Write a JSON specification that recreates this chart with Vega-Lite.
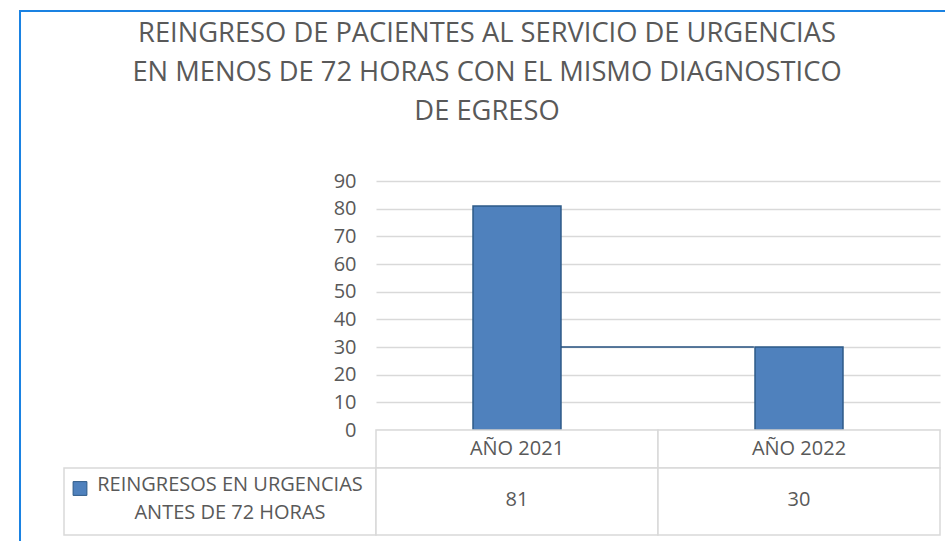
{
  "$schema": "https://vega.github.io/schema/vega-lite/v6.json",
  "padding": {"left": 19, "top": 10, "right": 0, "bottom": 0},
  "background": "white",
  "datasets": {
    "main": [
      {"year": "AÑO 2021", "value": 81},
      {"year": "AÑO 2022", "value": 30}
    ],
    "serie": [{"serie": "REINGRESOS EN URGENCIAS\nANTES DE 72 HORAS"}],
    "title": [{"t": "REINGRESO DE PACIENTES AL SERVICIO DE URGENCIAS\nEN MENOS DE 72 HORAS CON EL MISMO DIAGNOSTICO\nDE EGRESO"}]
  },
  "config": {
    "view": {"stroke": null},
    "font": "Open Sans",
    "text": {"font": "Open Sans", "color": "#595959"}
  },
  "spacing": 0,
  "bounds": "flush",
  "vconcat": [
    {
      "width": 926, "height": 0.01,
      "view": {"stroke": "#1A82E2", "strokeWidth": 2},
      "data": {"values": []},
      "mark": "point"
    },
    {
      "spacing": 43,
      "bounds": "flush",
      "hconcat": [
        {
          "width": 0.01, "height": 531,
          "view": {"stroke": "#1A82E2", "strokeWidth": 2},
          "data": {"values": []},
          "mark": "point"
        },
        {
          "spacing": 47,
          "bounds": "flush",
          "vconcat": [
            {
              "width": 876, "height": 122,
              "data": {"name": "title"},
              "mark": {"type": "text", "fontSize": 27.3, "lineBreak": "\n", "lineHeight": 39, "align": "center", "baseline": "middle", "dx": -15, "dy": -39, "color": "#595959"},
              "encoding": {"text": {"field": "t"}}
            },
            {
              "columns": 2,
              "spacing": 0,
              "align": "each",
              "bounds": "flush",
              "concat": [
                {"width": 312, "height": 249, "data": {"values": []}, "mark": "point"},
                {
                  "width": 564, "height": 249,
                  "data": {"name": "main"},
                  "encoding": {
                    "y": {"field": "value", "type": "quantitative", "scale": {"domain": [0, 90], "nice": false},
                      "axis": {"values": [0, 10, 20, 30, 40, 50, 60, 70, 80, 90], "title": null, "grid": true, "gridColor": "#D9D9D9", "gridWidth": 1.3, "domain": false, "ticks": false, "labelFontSize": 20, "labelColor": "#595959", "labelPadding": 20, "labelFont": "Open Sans", "labelOverlap": false}}
                  },
                  "layer": [
                    {
                      "mark": {"type": "bar", "width": {"band": 0.312}, "fill": "#4F81BD", "stroke": "#2D5A88", "strokeWidth": 1.5},
                      "encoding": {
                        "x": {"field": "year", "type": "nominal", "scale": {"paddingInner": 0, "paddingOuter": 0}, "axis": null}
                      }
                    },
                    {
                      "transform": [{"filter": "datum.year == 'AÑO 2022'"}],
                      "mark": {"type": "rule", "color": "#24507F", "strokeWidth": 1.5},
                      "encoding": {
                        "x": {"field": "year", "type": "nominal", "bandPosition": -0.344},
                        "x2": {"field": "year", "bandPosition": 0.34}
                      }
                    }
                  ]
                },
                {"width": 312, "height": 38, "data": {"values": []}, "mark": "point"},
                {
                  "width": 564, "height": 38,
                  "data": {"name": "main"},
                  "layer": [
                    {
                      "mark": {"type": "rect", "fill": "white", "stroke": "#D9D9D9", "strokeWidth": 1.5},
                      "encoding": {"x": {"field": "year", "type": "nominal", "scale": {"paddingInner": 0, "paddingOuter": 0}, "axis": null}}
                    },
                    {
                      "mark": {"type": "text", "fontSize": 20, "baseline": "middle", "color": "#595959"},
                      "encoding": {"x": {"field": "year", "type": "nominal"}, "text": {"field": "year"}}
                    }
                  ]
                },
                {
                  "width": 312, "height": 67,
                  "view": {"stroke": "#D9D9D9", "strokeWidth": 1.5},
                  "data": {"name": "serie"},
                  "layer": [
                    {
                      "mark": {"type": "point", "shape": "square", "filled": true, "fill": "#4F81BD", "stroke": "#2D5A88", "strokeWidth": 1, "opacity": 1, "size": 190, "xOffset": -140, "yOffset": -13},
                      "encoding": {}
                    },
                    {
                      "mark": {"type": "text", "fontSize": 20, "lineBreak": "\n", "lineHeight": 28, "align": "center", "baseline": "middle", "dx": 10, "dy": -17, "color": "#595959"},
                      "encoding": {"text": {"field": "serie"}}
                    }
                  ]
                },
                {
                  "width": 564, "height": 67,
                  "data": {"name": "main"},
                  "layer": [
                    {
                      "mark": {"type": "rect", "fill": "white", "stroke": "#D9D9D9", "strokeWidth": 1.5},
                      "encoding": {"x": {"field": "year", "type": "nominal", "scale": {"paddingInner": 0, "paddingOuter": 0}, "axis": null}}
                    },
                    {
                      "mark": {"type": "text", "fontSize": 20, "baseline": "middle", "dy": -2, "color": "#595959"},
                      "encoding": {"x": {"field": "year", "type": "nominal"}, "text": {"field": "value", "type": "quantitative"}}
                    }
                  ]
                }
              ]
            }
          ]
        }
      ]
    }
  ]
}
